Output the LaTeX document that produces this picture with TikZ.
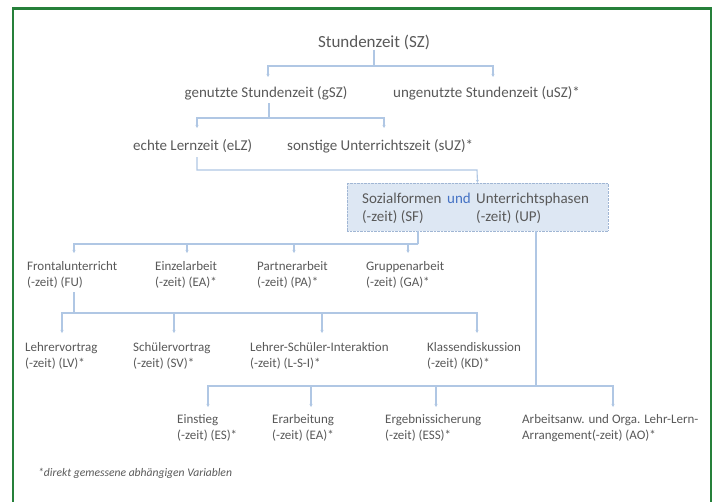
\documentclass[tikz,border=0pt]{standalone}
\usepackage{fontspec}
\setmainfont{Carlito}
\usetikzlibrary{arrows.meta,calc}
\definecolor{txt}{RGB}{89,89,89}
\definecolor{conn}{RGB}{176,199,228}
\definecolor{frame}{RGB}{38,128,58}
\definecolor{boxfill}{RGB}{221,231,243}
\definecolor{boxline}{RGB}{160,182,212}
\definecolor{undc}{RGB}{68,114,196}
\begin{document}
\begin{tikzpicture}[x=1pt,y=-1pt,
  lbl/.style={inner sep=0pt,text=txt,font=\fontsize{13}{16}\selectfont,align=left,anchor=north west},
  big/.style={inner sep=0pt,text=txt,font=\fontsize{15}{18}\selectfont},
  wire/.style={draw=conn,line width=1.1pt},
  arr/.style={wire,-{Stealth[length=3pt,width=3pt]}}]
\useasboundingbox (0,0) rectangle (717,501);
\clip (0,0) rectangle (717,501);
\fill[white] (0,0) rectangle (717,501);
\draw[frame,line width=2.6pt] (13,510) -- (13,8.5) -- (711,8.5) -- (711,510);

% level 0-2
\node[big,font=\fontsize{17}{20}\selectfont] (sz) at (374,42) {Stundenzeit (SZ)};
\node[big] (gsz) at (266,93) {genutzte Stundenzeit (gSZ)};
\node[big,anchor=west] (usz) at (393,93) {ungenutzte Stundenzeit (uSZ)*};
\node[big,anchor=west] (elz) at (133,146) {echte Lernzeit (eLZ)};
\node[big,anchor=west] (suz) at (287,146) {sonstige Unterrichtszeit (sUZ)*};

% box
\node[draw=boxline,densely dotted,fill=boxfill,minimum width=261pt,minimum height=48pt,inner sep=0pt] (box) at (477.5,207) {};
\node[lbl,font=\fontsize{15}{18}\selectfont] (sf) at (362,193) {Sozialformen\\(-zeit) (SF)};
\node[lbl,text=undc,font=\fontsize{15}{18}\selectfont] (und) at (447,193) {und};
\node[lbl,font=\fontsize{15}{18}\selectfont] (up) at (476,193) {Unterrichtsphasen\\(-zeit) (UP)};

% row 1
\node[lbl] (fu) at (27,261) {Frontalunterricht\\(-zeit) (FU)};
\node[lbl] (ea) at (155,261) {Einzelarbeit\\(-zeit) (EA)*};
\node[lbl] (pa) at (257,261) {Partnerarbeit\\(-zeit) (PA)*};
\node[lbl] (ga) at (366,261) {Gruppenarbeit\\(-zeit) (GA)*};
% row 2
\node[lbl] (lv) at (25,342) {Lehrervortrag\\(-zeit) (LV)*};
\node[lbl] (sv) at (133,342) {Schülervortrag\\(-zeit) (SV)*};
\node[lbl] (lsi) at (250,342) {Lehrer-Schüler-Interaktion\\(-zeit) (L-S-I)*};
\node[lbl] (kd) at (427,342) {Klassendiskussion\\(-zeit) (KD)*};
% row 3
\node[lbl] (es) at (177,414) {Einstieg\\(-zeit) (ES)*};
\node[lbl] (erb) at (272,414) {Erarbeitung\\(-zeit) (EA)*};
\node[lbl] (ess) at (385,414) {Ergebnissicherung\\(-zeit) (ESS)*};
\node[lbl] (ao) at (522,414) {Arbeitsanw. und Orga. Lehr-Lern-\\Arrangement(-zeit) (AO)*};

\node[inner sep=0pt,anchor=west,text=txt,font=\fontsize{11.6}{14}\selectfont\itshape] (fn) at (38,473) {*direkt gemessene abhängigen Variablen};

% connectors
\coordinate (j1) at (374,66);
\coordinate (gszin) at (268,77);
\coordinate (uszin) at (493,77);
\draw[wire] (sz.south) -- (j1);
\draw[arr] (j1) -| (gszin);
\draw[arr] (j1) -| (uszin);

\coordinate (gszout) at (269,103);
\coordinate (j2) at (269,118);
\coordinate (elzin) at (197,128);
\coordinate (suzin) at (384,128);
\draw[wire] (gszout) -- (j2);
\draw[arr] (j2) -| (elzin);
\draw[arr] (j2) -| (suzin);

\coordinate (elzout) at (197,157);
\draw[arr] (elzout) |- (477,170) -- (box.north);

\coordinate (sfout) at (418,231);
\coordinate (j4) at (418,244);
\coordinate (fuin) at (74,253);
\coordinate (eain) at (187,253);
\coordinate (pain) at (294,253);
\coordinate (gain) at (408,253);
\draw[wire] (sfout) -- (j4);
\draw[arr] (j4) -| (fuin);
\draw[arr] (j4) -| (eain);
\draw[arr] (j4) -| (pain);
\draw[arr] (j4) -| (gain);

\coordinate (fuout) at (74,292);
\coordinate (j5) at (74,313);
\coordinate (lvin) at (62,333);
\coordinate (svin) at (174,333);
\coordinate (lsiin) at (322,333);
\coordinate (kdin) at (477,333);
\draw[wire] (fuout) -- (j5);
\draw[arr] (j5) -| (lvin);
\draw[arr] (j5) -| (svin);
\draw[arr] (j5) -| (lsiin);
\draw[arr] (j5) -| (kdin);

\coordinate (upout) at (536,231);
\coordinate (j6) at (536,386);
\coordinate (esin) at (208,407);
\coordinate (erbin) at (311,407);
\coordinate (essin) at (436,407);
\coordinate (aoin) at (613,407);
\draw[wire] (upout) -- (j6);
\draw[arr] (j6) -| (esin);
\draw[arr] (j6) -| (erbin);
\draw[arr] (j6) -| (essin);
\draw[arr] (j6) -| (aoin);
\end{tikzpicture}
\end{document}
